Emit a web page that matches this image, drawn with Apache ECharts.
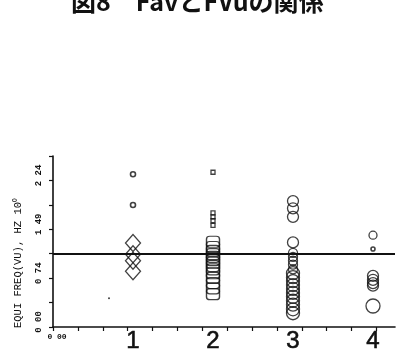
<!DOCTYPE html>
<html>
<head>
<meta charset="utf-8">
<title>図8 FavとFVuの関係</title>
<script src="https://cdn.jsdelivr.net/npm/echarts@6/dist/echarts.min.js"></script>
<style>
  html, body { margin: 0; padding: 0; background: #fff; }
  #chart { width: 397px; height: 357px; }
</style>
</head>
<body>
<div id="chart"></div>
<script>
// axis ticks / labels as printed on the plot
const xOriginLabel = '0 00';
const xGroupLabels = ['1', '2', '3', '4'];
const xGroupValues = [1, 2, 3, 4];
const xTickValues = [0, 0.311, 0.622, 0.933, 1.244, 1.555, 1.866, 2.177, 2.488, 2.799, 3.11, 3.421, 3.732, 4.043];
const yTickLabels = ['0 00', '0 74', '1 49', '2 24'];
const yLabelValues = [0, 0.745, 1.49, 2.235];
const refLevel = 1.1175;

// EQUI FREQ values per group
const g1Rings = [2.33, 1.86];
const g1Diamonds = [1.28, 1.11, 1.01, 0.85];
const g2Small = [2.36, 1.74, 1.68, 1.62, 1.55];
const g2Boxes = [1.30, 1.22, 1.16, 1.11, 1.07, 1.02, 0.98, 0.93, 0.88, 0.82, 0.75, 0.67, 0.59, 0.50];
const g3Upper = [1.92, 1.81, 1.68, 1.29];
const g3StackTop = [1.13, 1.07, 1.01, 0.95, 0.88];
const g3StackLow = [0.82, 0.76, 0.70, 0.64, 0.58, 0.52, 0.46, 0.40, 0.34, 0.27, 0.21];
const g4Upper = [1.40];
const g4Small = [1.19];
const g4Cluster = [0.78, 0.72, 0.67, 0.63];
const g4Large = [0.32];
const strayDots = [[0.7, 0.44]];

function pts(x, vals) {
  return vals.map(v => [x, v]);
}

function marks(data, symbol, size, extra) {
  return Object.assign({
    type: 'scatter',
    data: data,
    symbol: symbol,
    symbolSize: size,
    silent: true,
    itemStyle: {
      color: 'rgba(0,0,0,0)',
      borderColor: '#111',
      borderWidth: 1.3
    }
  }, extra || {});
}

let chart = echarts.init(document.getElementById('chart'), null, {renderer: 'canvas'});
let option = {
  animation: false,
  backgroundColor: '#fff',
  title: {
    text: '図8　FavとFVuの関係',
    left: 66,
    top: -16,
    textStyle: {
      fontFamily: 'Noto Sans CJK JP',
      fontSize: 25,
      fontWeight: 'bold',
      color: '#111'
    }
  },
  grid: {
    left: 53,
    right: 2,
    top: 156,
    bottom: 30,
    containLabel: false
  },
  xAxis: {
    type: 'value',
    min: 0,
    max: 4.275,
    splitLine: {show: false},
    axisLine: {lineStyle: {color: '#111', width: 1.6}},
    axisTick: {
      customValues: xTickValues,
      length: 4,
      lineStyle: {color: '#111', width: 1.2}
    },
    axisLabel: {
      customValues: [0].concat(xGroupValues),
      margin: 2,
      formatter: function (v) {
        if (v === 0) return '{o|' + xOriginLabel + '}';
        let i = xGroupValues.indexOf(v);
        return i < 0 ? '' : '{n|' + xGroupLabels[i] + '}';
      },
      rich: {
        o: {fontFamily: 'Liberation Mono', fontSize: 8, fontWeight: 'bold', color: '#111', padding: [4, 0, 0, 8]},
        n: {fontFamily: 'Liberation Sans', fontSize: 24, color: '#111', textShadowColor: '#111', textShadowBlur: 0, textBorderColor: '#111', textBorderWidth: 0.6}
      }
    }
  },
  yAxis: {
    type: 'value',
    min: 0,
    max: 2.6075,
    interval: 0.3725,
    splitLine: {show: false},
    axisLine: {lineStyle: {color: '#111', width: 1.6}},
    axisTick: {length: 4, lineStyle: {color: '#111', width: 1.2}},
    axisLabel: {
      customValues: yLabelValues,
      rotate: 90,
      margin: 10,
      fontFamily: 'Liberation Mono',
      fontSize: 9,
      fontWeight: 'bold',
      color: '#111',
      padding: [0, 0, 0, 10],
      formatter: function (v) {
        let i = yLabelValues.findIndex(t => Math.abs(t - v) < 1e-6);
        return i < 0 ? '' : yTickLabels[i];
      }
    },
    name: 'EQUI FREQ(VU), HZ 10⁰',
    nameLocation: 'middle',
    nameRotate: 90,
    nameGap: 29,
    nameTextStyle: {
      fontFamily: 'Liberation Mono',
      fontSize: 10.5,
      color: '#111',
      padding: [0, 43, 0, 0]
    }
  },
  series: [
    marks(pts(1, g1Rings), 'circle', 5, {
      itemStyle: {color: 'rgba(0,0,0,0)', borderColor: '#111', borderWidth: 1.6},
      markLine: {
        silent: true,
        symbol: 'none',
        label: {show: false},
        lineStyle: {color: '#111', width: 2, type: 'solid'},
        data: [{yAxis: refLevel}]
      }
    }),
    marks(pts(1, g1Diamonds), 'diamond', [15, 17]),
    marks(pts(2, g2Small), 'rect', [4, 4]),
    marks(pts(2, g2Boxes), 'roundRect', [13, 11]),
    marks(pts(3, g3Upper), 'circle', 11),
    marks(pts(3, g3StackTop), 'circle', 9),
    marks(pts(3, g3StackLow), 'circle', 13),
    marks(pts(4, g4Upper), 'circle', 8),
    marks(pts(4, g4Small), 'circle', 4, {
      itemStyle: {color: 'rgba(0,0,0,0)', borderColor: '#111', borderWidth: 1.6}
    }),
    marks(pts(4, g4Cluster), 'circle', 11),
    marks(pts(4, g4Large), 'circle', 14),
    marks(strayDots, 'circle', 2, {itemStyle: {color: '#111'}})
  ]
};
option && chart.setOption(option);
</script>
</body>
</html>
